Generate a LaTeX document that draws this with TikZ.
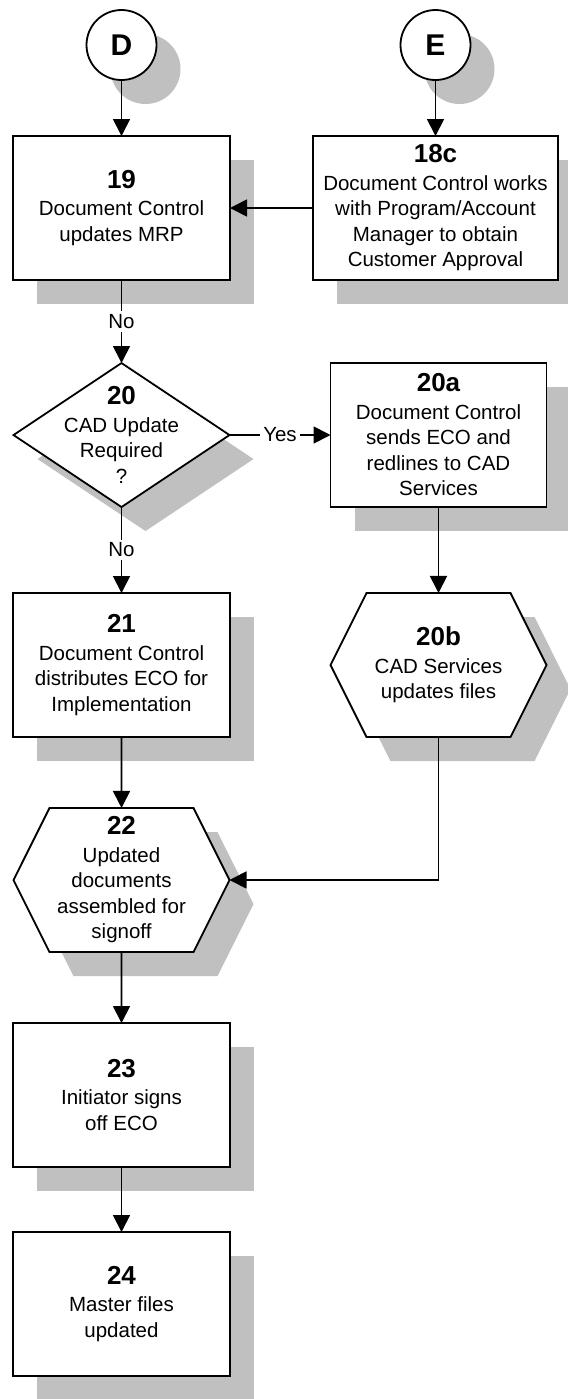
\documentclass[tikz,border=0pt]{standalone}
\usepackage{fontspec}
\setmainfont{Liberation Sans}
\usetikzlibrary{positioning,shapes.geometric,shapes.symbols,shadows,arrows.meta}
\definecolor{shadowgray}{RGB}{192,192,192}

\newcommand{\stepno}[1]{{\fontsize{13pt}{14pt}\selectfont\bfseries #1}\\[1pt]}

\begin{document}
\begin{tikzpicture}[x=0.5pt, y=-0.5pt,
    font=\fontsize{10.25pt}{12.75pt}\selectfont,
    dropshade/.style={drop shadow={shadow xshift=12pt, shadow yshift=-12pt, fill=shadowgray, opacity=1}},
    box/.style={draw, line width=0.9pt, outer sep=0pt, fill=white, dropshade, align=center, minimum width=108.5pt, minimum height=72pt, inner sep=2pt},
    decision/.style={draw, diamond, line width=0.9pt, outer sep=0pt, fill=white, dropshade, minimum width=108pt, minimum height=72pt, inner sep=0pt},
    hexbox/.style={draw, signal, signal to=west and east, signal pointer angle=126.87, line width=0.9pt, outer sep=0pt, fill=white, dropshade, align=center, minimum width=108pt, minimum height=72pt, inner sep=0pt},
    connector/.style={draw, circle, line width=0.9pt, outer sep=0pt, fill=white, dropshade, minimum size=35pt, inner sep=0pt, font=\fontsize{15pt}{17pt}\selectfont\bfseries},
    arr/.style={line width=0.9pt, -{Triangle[length=8.5pt, width=8.5pt]}},
    tag/.style={fill=white, inner sep=1.5pt}]

    \useasboundingbox (0,0) rectangle (568,1399);

    \node (n19) [box] at (121.5,208) {\stepno{19}Document Control\\updates MRP};
    \node (D) [connector, above=28pt of n19] {D};

    \node (n18c) [box, minimum width=122.5pt, right=41.5pt of n19] {\stepno{18c}Document Control works\\with Program/Account\\Manager to obtain\\Customer Approval};
    \node (E) [connector, above=28pt of n18c] {E};

    \node (d20) [decision, below=41.5pt of n19, label={[align=center]center:{\stepno{20}CAD Update\\Required\\?}}] {};

    \node (n20a) [box, minimum width=108pt, right=50.5pt of d20] {\stepno{20a}Document Control\\sends ECO and\\redlines to CAD\\Services};

    \node (n21) [box, below=43pt of d20] {\stepno{21}Document Control\\distributes ECO for\\Implementation};

    \node (n20b) [hexbox, below=43pt of n20a] {\stepno{20b}CAD Services\\updates files};

    \node (n22) [hexbox, below=35.5pt of n21] {\stepno{22}Updated\\documents\\assembled for\\signoff};

    \node (n23) [box, below=35.5pt of n22] {\stepno{23}Initiator signs\\off ECO};

    \node (n24) [box, below=32.5pt of n23] {\stepno{24}Master files\\updated};

    \draw [arr] (D) -- (n19);
    \draw [arr] (E) -- (n18c);
    \draw [arr] (n18c) -- (n19);
    \draw [arr] (n19) -- node [tag] {No} (d20);
    \draw [arr] (d20) -- node [tag] {Yes} (n20a);
    \draw [arr] (d20) -- node [tag] {No} (n21);
    \draw [arr] (n20a) -- (n20b);
    \draw [arr] (n21) -- (n22);
    \draw [arr] (n20b) |- (n22);
    \draw [arr] (n22) -- (n23);
    \draw [arr] (n23) -- (n24);

\end{tikzpicture}
\end{document}
